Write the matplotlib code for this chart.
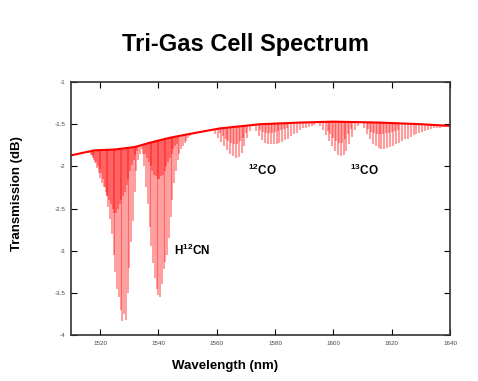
import numpy as np
import matplotlib
matplotlib.use("Agg")
import matplotlib.pyplot as plt

plt.rcParams['font.family'] = ['Liberation Sans', 'DejaVu Sans']
plt.rcParams['mathtext.fontset'] = 'custom'
plt.rcParams['mathtext.rm'] = 'Liberation Sans:bold'
plt.rcParams['mathtext.bf'] = 'Liberation Sans:bold'

# Baseline (continuum) of the transmission, dB
base_wl = [1510, 1518, 1525, 1532, 1537, 1544, 1550, 1561, 1575, 1589, 1600, 1615, 1630, 1640]
base_db = [-1.87, -1.81, -1.80, -1.77, -1.72, -1.66, -1.62, -1.55, -1.50, -1.48, -1.47, -1.48, -1.50, -1.52]

# H12CN absorption lines: wavelength (nm) and line-bottom transmission (dB)
hcn_wl = [1516.2, 1516.8, 1517.4, 1518.0, 1518.6, 1519.2, 1519.8, 1520.4, 1521.0, 1521.6,
          1522.2, 1522.8, 1523.4, 1524.0, 1524.6, 1525.2, 1525.8, 1526.4, 1527.0, 1527.6,
          1528.2, 1528.8, 1529.4, 1530.0, 1530.6, 1531.2, 1531.8, 1532.4, 1533.0, 1533.6,
          1534.2, 1534.6, 1535.2, 1535.8, 1536.4, 1537.0, 1537.6, 1538.2, 1538.8, 1539.4,
          1540.0, 1540.6, 1541.2, 1541.8, 1542.4, 1543.0, 1543.6, 1544.2, 1544.8, 1545.4,
          1546.0, 1546.6, 1547.2, 1547.8, 1548.4, 1549.0, 1549.6, 1550.2, 1550.8]
hcn_db = [-1.84, -1.86, -1.88, -1.92, -1.95, -1.99, -2.03, -2.08, -2.15, -2.24,
          -2.35, -2.48, -2.62, -2.80, -3.05, -3.25, -3.45, -3.55, -3.70, -3.83,
          -3.75, -3.82, -3.50, -3.20, -2.90, -2.65, -2.30, -2.05, -1.92, -1.85,
          -1.80, -1.85, -2.00, -2.25, -2.45, -2.72, -2.95, -3.15, -3.32, -3.45,
          -3.52, -3.55, -3.40, -3.22, -3.14, -3.05, -2.85, -2.60, -2.40, -2.20,
          -2.05, -1.92, -1.85, -1.80, -1.76, -1.72, -1.70, -1.66, -1.64]

# H12CN weaker (hot-band) lines
hcn_hot_wl = [1517.1, 1517.7, 1518.3, 1518.9, 1519.5, 1520.1, 1520.7, 1521.3, 1521.9, 1522.5,
              1523.1, 1523.7, 1524.3, 1524.9, 1525.5, 1526.1, 1526.7, 1527.3, 1527.9, 1528.5,
              1529.1, 1529.7, 1530.3, 1530.9, 1531.5, 1532.1, 1532.7,
              1535.5, 1536.1, 1536.7, 1537.3, 1537.9, 1538.5, 1539.1, 1539.7, 1540.3, 1540.9,
              1541.5, 1542.1, 1542.7, 1543.3, 1543.9, 1544.5, 1545.1, 1545.7, 1546.3]
hcn_hot_db = [-1.86, -1.90, -1.96, -2.02, -2.08, -2.14, -2.20, -2.25, -2.30, -2.35,
              -2.40, -2.45, -2.50, -2.55, -2.55, -2.50, -2.45, -2.40, -2.35, -2.30,
              -2.22, -2.15, -2.05, -1.98, -1.92, -1.86, -1.82,
              -1.85, -1.90, -1.95, -2.00, -2.05, -2.10, -2.12, -2.15, -2.15, -2.12,
              -2.10, -2.05, -2.00, -1.95, -1.90, -1.85, -1.80, -1.76, -1.73]

# 12CO absorption lines
co12_wl = [1558.5, 1559.5, 1560.5, 1561.5, 1562.5, 1563.5, 1564.5, 1565.5, 1566.5, 1567.5,
           1568.5, 1569.5, 1570.5, 1571.5, 1573.5, 1574.5, 1575.5, 1576.5, 1577.5, 1578.5,
           1579.5, 1580.5, 1581.5, 1582.5, 1583.5, 1584.5, 1585.5, 1586.5, 1587.5, 1588.5,
           1589.5, 1590.5, 1591.5, 1592.5, 1593.5]
co12_db = [-1.58, -1.62, -1.66, -1.71, -1.76, -1.81, -1.85, -1.88, -1.90, -1.89,
           -1.84, -1.76, -1.66, -1.58, -1.58, -1.64, -1.69, -1.72, -1.73, -1.74,
           -1.74, -1.73, -1.72, -1.71, -1.69, -1.67, -1.64, -1.62, -1.60, -1.57,
           -1.55, -1.54, -1.53, -1.52, -1.51]
co12_hot_wl = [1561.0, 1562.0, 1563.0, 1564.0, 1565.0, 1566.0, 1567.0, 1568.0, 1569.0, 1570.0,
               1575.0, 1576.0, 1577.0, 1578.0, 1579.0, 1580.0, 1581.0, 1582.0, 1583.0, 1584.0]
co12_hot_db = [-1.61, -1.64, -1.67, -1.70, -1.72, -1.73, -1.73, -1.70, -1.66, -1.61,
               -1.57, -1.59, -1.60, -1.60, -1.60, -1.59, -1.58, -1.57, -1.56, -1.55]

# 13CO absorption lines
co13_wl = [1595.5, 1596.5, 1597.5, 1598.5, 1599.5, 1600.5, 1601.5, 1602.5, 1603.5, 1604.5,
           1605.5, 1606.5, 1607.5, 1608.5, 1610.5, 1611.5, 1612.5, 1613.5, 1614.5, 1615.5,
           1616.5, 1617.5, 1618.5, 1619.5, 1620.5, 1621.5, 1622.5, 1623.5, 1624.5, 1625.5,
           1626.5, 1627.5, 1628.5, 1629.5, 1630.5, 1631.5, 1632.5, 1633.5, 1634.5, 1635.5,
           1636.5, 1637.5, 1638.5]
co13_db = [-1.52, -1.57, -1.63, -1.70, -1.76, -1.82, -1.86, -1.88, -1.87, -1.82,
           -1.74, -1.65, -1.57, -1.52, -1.55, -1.62, -1.68, -1.73, -1.76, -1.78,
           -1.79, -1.79, -1.78, -1.77, -1.76, -1.74, -1.72, -1.70, -1.68, -1.67,
           -1.65, -1.63, -1.62, -1.60, -1.59, -1.58, -1.57, -1.56, -1.55, -1.54,
           -1.54, -1.53, -1.53]
co13_hot_wl = [1598.0, 1599.0, 1600.0, 1601.0, 1602.0, 1603.0, 1604.0, 1605.0, 1606.0,
               1612.0, 1613.0, 1614.0, 1615.0, 1616.0, 1617.0, 1618.0, 1619.0, 1620.0, 1621.0, 1622.0]
co13_hot_db = [-1.58, -1.62, -1.66, -1.70, -1.72, -1.72, -1.68, -1.62, -1.56,
               -1.56, -1.59, -1.61, -1.62, -1.62, -1.62, -1.61, -1.60, -1.59, -1.58, -1.57]

x_ticks = [1520, 1540, 1560, 1580, 1600, 1620, 1640]
y_ticks = [-1, -1.5, -2, -2.5, -3, -3.5, -4]
y_ticklabels = ['-1', '-1.5', '-2', '-2.5', '-3', '-3.5', '-4']

fig = plt.figure(figsize=(4.78, 3.81), dpi=100)
ax = fig.add_axes([0.1485, 0.1207, 0.7929, 0.664])

red = '#ff0000'
for wl, db, lw, al in [(hcn_wl, hcn_db, 1.4, 0.38), (co12_wl, co12_db, 1.5, 0.38),
                       (co13_wl, co13_db, 1.5, 0.38), (hcn_hot_wl, hcn_hot_db, 1.2, 0.45),
                       (co12_hot_wl, co12_hot_db, 1.2, 0.45), (co13_hot_wl, co13_hot_db, 1.2, 0.45)]:
    wl = np.asarray(wl)
    top = np.interp(wl, base_wl, base_db)
    ax.vlines(wl, db, top, colors=red, alpha=al, linewidth=lw)

ax.plot(base_wl, base_db, color=red, linewidth=1.5)

ax.set_xlim(1510, 1640)
ax.set_ylim(-4, -1)
ax.set_xticks(x_ticks)
ax.set_xticklabels([str(t) for t in x_ticks])
ax.set_yticks(y_ticks)
ax.set_yticklabels(y_ticklabels)
ax.tick_params(direction='in', top=True, right=True, length=4, width=0.8,
               labelsize=4.5, labelcolor='#444444', pad=4)
for s in ax.spines.values():
    s.set_linewidth(1.2)
    s.set_color('#333333')

ax.set_xlabel('Wavelength (nm)', fontsize=9.5, fontweight='bold')
ax.xaxis.set_label_coords(0.406, -0.10)
ax.set_ylabel('Transmission (dB)', fontsize=9.5, fontweight='bold')
ax.yaxis.set_label_coords(-0.127, 0.56)

fig.text(245 / 478, 1 - 44 / 381, 'Tri-Gas Cell Spectrum', ha='center', va='center',
         fontsize=17, fontweight='bold')

ax.text(1545.5, -3.0, r'$\mathbf{H^{12}CN}$', fontsize=8.5, ha='left', va='center')
ax.text(1570.8, -2.05, r'$\mathbf{^{12}CO}$', fontsize=8.5, ha='left', va='center')
ax.text(1605.8, -2.05, r'$\mathbf{^{13}CO}$', fontsize=8.5, ha='left', va='center')

fig.savefig('out.png', dpi=100)
